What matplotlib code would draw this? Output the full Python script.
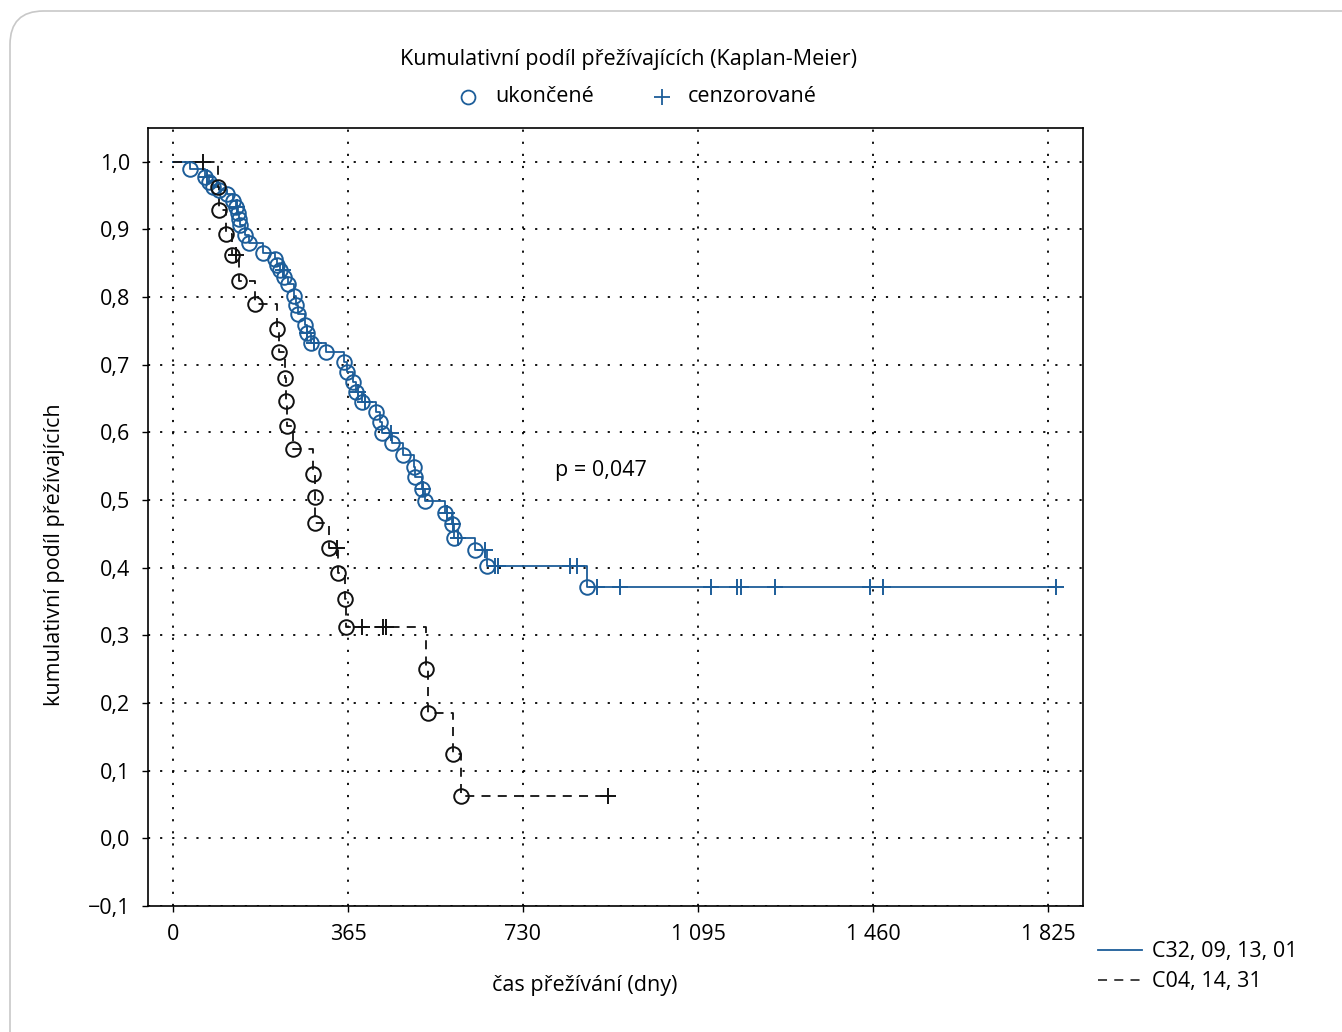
import matplotlib
matplotlib.use("Agg")
import matplotlib.pyplot as plt
from matplotlib.patches import FancyBboxPatch
from matplotlib.lines import Line2D
import numpy as np

plt.rcParams['font.family'] = ['Open Sans', 'DejaVu Sans']

# group 1: C32, 09, 13, 01 (events: time in days, survival after event)
t_events_1 = [35, 67, 75, 83, 96, 113, 125, 131, 136, 138, 140, 150, 158, 188, 213, 217,
              223, 231, 240, 252, 257, 261, 275, 279, 288, 319, 357, 363, 375, 382, 394,
              423, 432, 436, 457, 480, 503, 505, 519, 526, 567, 582, 586, 630, 655, 863]
surv_1 = [0.990, 0.978, 0.970, 0.963, 0.959, 0.953, 0.942, 0.933, 0.925, 0.916, 0.907,
          0.892, 0.880, 0.865, 0.857, 0.848, 0.840, 0.830, 0.820, 0.802, 0.788, 0.775,
          0.759, 0.747, 0.732, 0.719, 0.704, 0.689, 0.675, 0.660, 0.645, 0.630, 0.615,
          0.599, 0.584, 0.567, 0.549, 0.534, 0.516, 0.499, 0.481, 0.464, 0.444, 0.426,
          0.402, 0.371]
t_cens_1 = [71, 133, 229, 279, 294, 386, 400, 455, 521, 571, 584, 594, 651, 672, 678,
            828, 843, 884, 932, 1122, 1176, 1184, 1255, 1454, 1481, 1842]

# group 2: C04, 14, 31
t_events_2 = [94, 96, 111, 123, 138, 171, 217, 221, 234, 236, 238, 250, 292, 296, 297,
              325, 344, 359, 360, 528, 532, 584, 601]
surv_2 = [0.963, 0.929, 0.893, 0.862, 0.824, 0.790, 0.753, 0.719, 0.680, 0.646, 0.609,
          0.575, 0.538, 0.504, 0.466, 0.429, 0.392, 0.354, 0.312, 0.250, 0.185, 0.124,
          0.062]
t_cens_2 = [63, 131, 342, 394, 438, 444, 907]

x_ticks = [0, 365, 730, 1095, 1460, 1825]
x_labels = ['0', '365', '730', '1 095', '1 460', '1 825']
y_ticks = np.round(np.arange(-0.1, 1.05, 0.1), 1)

blue = '#1c5d99'
black = '#111111'
fs = 15.5


def level_at(times, surv, t):
    idx = np.searchsorted(times, t, side='right') - 1
    return np.where(idx >= 0, np.asarray(surv)[np.clip(idx, 0, None)], 1.0)


fig = plt.figure(figsize=(13.42, 10.32), dpi=100)
border = FancyBboxPatch((10 / 1342, -0.1), 1.2, 1.1 - 11 / 1032,
                        boxstyle='round,pad=0,rounding_size=0.025',
                        transform=fig.transFigure, fc='none', ec='#c8c8c8', lw=1.2,
                        mutation_aspect=1342 / 1032, zorder=-10)
fig.patches.append(border)

ax = fig.add_axes([148 / 1342, 1 - 906 / 1032, (1083 - 148) / 1342, (906 - 128) / 1032])
ax.set_xlim(-52, 1898)
ax.set_ylim(-0.1, 1.05)

for te, sv, tc, col, ls in [(t_events_1, surv_1, t_cens_1, blue, '-'),
                            (t_events_2, surv_2, t_cens_2, black, (0, (5, 4)))]:
    end = max(tc[-1], te[-1])
    xs = [0] + list(te) + [end]
    ys = [1.0] + list(sv) + [sv[-1]]
    ax.step(xs, ys, where='post', color=col, lw=1.3, ls=ls, zorder=3)
    ax.plot(te, sv, 'o', ms=10.5, mfc='none', mec=col, mew=1.4, zorder=4)
    ax.plot(tc, level_at(te, sv, tc), '+', ms=12, mec=col, mew=1.4, zorder=4)

ax.set_xticks(x_ticks)
ax.set_xticklabels(x_labels)
ax.set_yticks(y_ticks)
ax.set_yticklabels([f'{v:.1f}'.replace('.', ',').replace('-', '\u2212') for v in y_ticks])
ax.grid(True, color='black', ls=(0, (1.2, 5.5)), lw=1.3)
ax.tick_params(direction='out', length=4, width=1, labelsize=fs, colors='black', pad=9)
for sp in ax.spines.values():
    sp.set_linewidth(1.2)

ax.text(797, 0.544, 'p = 0,047', fontsize=fs, ha='left', va='center')

fig.text(629 / 1342, 1 - 60 / 1032, 'Kumulativní podíl přežívajících (Kaplan-Meier)',
         fontsize=fs, ha='center', va='center')
fig.lines.append(Line2D([468 / 1342], [1 - 97 / 1032], marker='o', ms=10, mfc='none',
                        mec=blue, mew=1.3, transform=fig.transFigure))
fig.text(495 / 1342, 1 - 97 / 1032, 'ukončené', fontsize=fs, ha='left', va='center')
fig.lines.append(Line2D([662 / 1342], [1 - 97 / 1032], marker='+', ms=12, mec=blue,
                        mew=1.3, transform=fig.transFigure))
fig.text(688 / 1342, 1 - 97 / 1032, 'cenzorované', fontsize=fs, ha='left', va='center')

fig.text(585 / 1342, 1 - 986 / 1032, 'čas přežívání (dny)', fontsize=fs,
         ha='center', va='center')
fig.text(55 / 1342, 1 - 555 / 1032, 'kumulativní podíl přežívajících', fontsize=fs,
         ha='center', va='center', rotation=90)

# group legend at bottom right
fig.lines.append(Line2D([1098 / 1342, 1142 / 1342], [1 - 950 / 1032] * 2, color=blue,
                        lw=1.3, transform=fig.transFigure))
fig.text(1152 / 1342, 1 - 952 / 1032, 'C32, 09, 13, 01', fontsize=fs, ha='left', va='center')
fig.lines.append(Line2D([1098 / 1342, 1142 / 1342], [1 - 980 / 1032] * 2, color='#333333',
                        lw=1.3, ls=(0, (5, 4)), transform=fig.transFigure))
fig.text(1152 / 1342, 1 - 981 / 1032, 'C04, 14, 31', fontsize=fs, ha='left', va='center')

fig.savefig('out.png', dpi=100)
